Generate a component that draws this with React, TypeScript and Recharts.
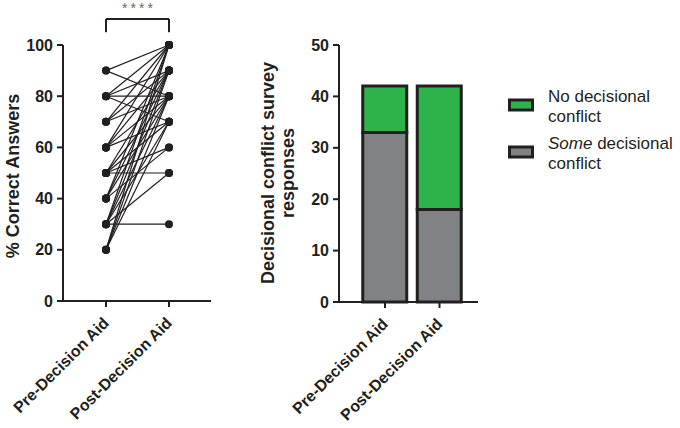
import { Bar, BarChart, Label, Legend, Line, LineChart, ReferenceLine, XAxis, YAxis } from "recharts";

const groups = ["Pre-Decision Aid", "Post-Decision Aid"];

// paired scores, one entry per participant line
const preScores = [90, 90, 80, 80, 80, 80, 70, 70, 70, 60, 60, 60, 60, 50, 50, 50, 50, 50, 40, 40, 40, 40, 30, 30, 30, 30, 30, 30, 20, 20, 20, 20];
const postScores = [100, 80, 80, 70, 90, 100, 90, 80, 100, 80, 70, 90, 100, 50, 60, 70, 80, 90, 60, 80, 90, 100, 30, 50, 70, 80, 90, 100, 70, 80, 90, 100];
const scoreTicks = [0, 20, 40, 60, 80, 100];

const someConflict = [33, 18];
const noConflict = [9, 24];
const countTicks = [0, 10, 20, 30, 40, 50];

const font = "'Liberation Sans', Arial, sans-serif";
const ink = "#231f20";

const pairRows = groups.map((name, gi) => {
  const row: Record<string, number | string> = { x: gi, name };
  preScores.forEach((v, i) => {
    row[`p${i}`] = gi === 0 ? v : postScores[i];
  });
  return row;
});

const barRows = groups.map((name, i) => ({ name, some: someConflict[i], none: noConflict[i] }));

const tickStyle = { fill: ink, fontSize: 16, fontWeight: 700, fontFamily: font };

function SlantTick(props: any) {
  const { x, y, payload } = props;
  const text = typeof payload.value === "number" ? groups[payload.value] : payload.value;
  return (
    <g transform={`translate(${x},${y})`}>
      <text x={4} y={15} transform="rotate(-45 4 15)" textAnchor="end" {...tickStyle}>
        {text}
      </text>
    </g>
  );
}

function axisTitle(lines: string[], cx: number, cy: number) {
  return () => (
    <text transform={`rotate(-90 ${cx} ${cy})`} x={cx} y={cy} textAnchor="middle" fill={ink} fontSize={18} fontWeight={700} fontFamily={font}>
      {lines.map((l, i) => (
        <tspan key={l} x={cx} dy={i === 0 ? 0 : 20}>
          {l}
        </tspan>
      ))}
    </text>
  );
}

function ConflictLegend() {
  return (
    <svg width={180} height={95} style={{ fontFamily: font }}>
      <rect x={1.5} y={15} width={23} height={10} fill="#2eb34a" stroke={ink} strokeWidth={3} />
      <text x={40} y={17} fontSize={17} fill={ink}>No decisional</text>
      <text x={40} y={37} fontSize={17} fill={ink}>conflict</text>
      <rect x={1.5} y={62} width={23} height={10} fill="#808285" stroke={ink} strokeWidth={3} />
      <text x={40} y={64} fontSize={17} fill={ink}>
        <tspan fontStyle="italic">Some</tspan> decisional
      </text>
      <text x={40} y={84} fontSize={17} fill={ink}>conflict</text>
    </svg>
  );
}

export default function App() {
  return (
    <div style={{ position: "absolute", left: 0, top: 0, width: 680, height: 428, background: "#fff" }}>
      <div style={{ position: "absolute", left: 0, top: 0 }}>
        <LineChart width={240} height={428} data={pairRows} margin={{ top: 45, right: 29, bottom: 0, left: 0 }}>
          <XAxis
            type="number"
            dataKey="x"
            domain={[-0.683, 1.667]}
            ticks={[0, 1]}
            height={127}
            tickSize={6}
            stroke={ink}
            strokeWidth={2}
            tick={<SlantTick />}
          />
          <YAxis
            domain={[0, 100]}
            ticks={scoreTicks}
            width={63}
            tickSize={6}
            tickMargin={4}
            stroke={ink}
            strokeWidth={2}
            tick={tickStyle}
          >
            <Label content={axisTitle(["% Correct Answers"], 19, 176)} />
          </YAxis>
          {preScores.map((_, i) => (
            <Line
              key={i}
              dataKey={`p${i}`}
              type="linear"
              stroke={ink}
              strokeWidth={1.2}
              dot={{ r: 4, fill: ink, stroke: ink, strokeWidth: 0 }}
              activeDot={false}
              isAnimationActive={false}
            />
          ))}
          <ReferenceLine segment={[{ x: 0, y: 105 }, { x: 0, y: 110.2 }]} stroke={ink} strokeWidth={2} ifOverflow="visible" />
          <ReferenceLine
            segment={[{ x: 0, y: 110.2 }, { x: 1, y: 110.2 }]}
            stroke={ink}
            strokeWidth={2}
            ifOverflow="visible"
            label={{ value: "****", position: "top", fill: "#666", fontSize: 14, fontFamily: font, letterSpacing: 3, offset: 6, dx: 1.5 }}
          />
          <ReferenceLine segment={[{ x: 1, y: 110.2 }, { x: 1, y: 105 }]} stroke={ink} strokeWidth={2} ifOverflow="visible" />
        </LineChart>
      </div>
      <div style={{ position: "absolute", left: 240, top: 0 }}>
        <BarChart width={440} height={428} data={barRows} margin={{ top: 45, right: 202, bottom: 0, left: 0 }}>
          <XAxis
            dataKey="name"
            padding={{ left: 18.75, right: 11.25 }}
            height={126}
            tickSize={6}
            stroke={ink}
            strokeWidth={2}
            tick={<SlantTick />}
            interval={0}
          />
          <YAxis
            domain={[0, 50]}
            ticks={countTicks}
            width={99}
            tickSize={6}
            tickMargin={4}
            stroke={ink}
            strokeWidth={2}
            tick={tickStyle}
          >
            <Label content={axisTitle(["Decisional conflict survey", "responses"], 34, 173)} />
          </YAxis>
          <Legend
            layout="vertical"
            align="center"
            verticalAlign="middle"
            content={<ConflictLegend />}
            wrapperStyle={{ left: 268, top: 85, width: 180 }}
          />
          <Bar dataKey="some" name="Some decisional conflict" stackId="a" fill="#808285" stroke={ink} strokeWidth={3} barSize={44} isAnimationActive={false} />
          <Bar dataKey="none" name="No decisional conflict" stackId="a" fill="#2eb34a" stroke={ink} strokeWidth={3} barSize={44} isAnimationActive={false} />
        </BarChart>
      </div>
    </div>
  );
}
